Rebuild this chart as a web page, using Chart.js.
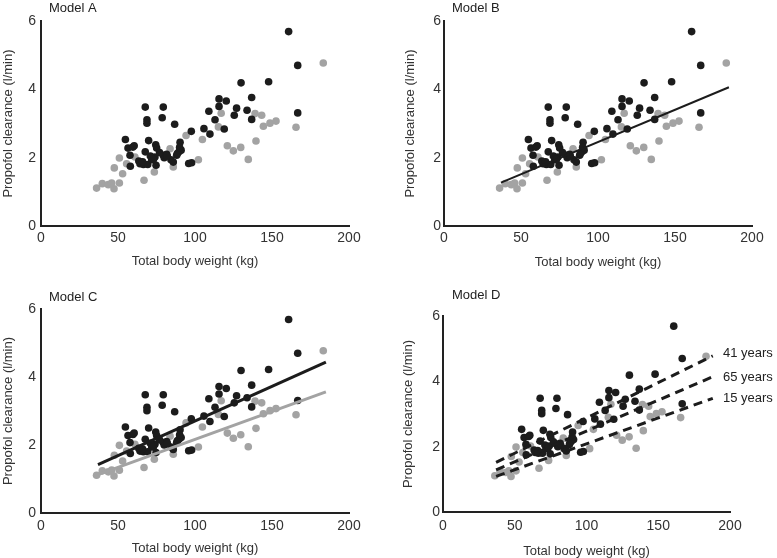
<!DOCTYPE html>
<html lang="en">
<head>
    <meta charset="UTF-8">
    <title>Propofol clearance vs total body weight</title>
    <script src="https://cdn.jsdelivr.net/npm/chart.js"></script>
    <style>
        body { margin: 0; background: #fff; }
        .panel { position: absolute; }
    </style>
</head>
<body>
    <div class="panel" id="pA" style="left:0;top:0;width:388px;height:279px"><canvas id="chartA"></canvas></div>
    <div class="panel" id="pB" style="left:390px;top:0;width:387px;height:279px"><canvas id="chartB"></canvas></div>
    <div class="panel" id="pC" style="left:0;top:280px;width:388px;height:278px"><canvas id="chartC"></canvas></div>
    <div class="panel" id="pD" style="left:390px;top:280px;width:387px;height:278px"><canvas id="chartD"></canvas></div>
<script>
// black points (weight kg, clearance l/min)
var blackWeight = [160.8, 166.7, 166.7, 129.9, 147.8, 136.8, 136.8, 133.8, 127, 125.5,
    115.6, 120.3, 115.6, 119, 113, 109, 105.8, 109.7, 97.6, 95.9,
    97.8, 90.3, 89.6, 88.1, 86.8, 79.4, 78.7, 67.7, 68.8, 68.8,
    69.9, 67.7, 74.5, 75.1, 54.8, 56.5, 59.7, 57.8, 58.0, 64.3,
    66.5, 69.3, 71.9, 74.0, 74.7, 79.4, 81.6, 84.4, 85.9, 91,
    71, 63.5, 60.5, 80, 88.5, 73, 82, 66, 90, 77];
var blackClearance = [5.69, 4.70, 3.31, 4.19, 4.22, 3.76, 3.12, 3.39, 3.45, 3.24,
    3.72, 3.66, 3.50, 2.84, 3.11, 3.36, 2.85, 2.69, 2.77, 1.83,
    1.85, 2.45, 2.17, 2.07, 2.98, 3.48, 3.17, 3.48, 3.11, 3.01,
    2.50, 2.17, 2.38, 2.28, 2.53, 2.28, 2.31, 2.07, 1.75, 1.82,
    1.80, 1.80, 1.94, 2.02, 1.78, 2.07, 2.10, 1.94, 1.87, 2.22,
    2.05, 1.90, 2.35, 2.00, 2.12, 1.95, 2.05, 1.88, 2.30, 2.15];

// grey points
var grayWeight = [36.1, 39.8, 43.7, 45.9, 47.4, 50.9, 53, 47.6, 50.9, 55.6,
    61, 66.9, 73.6, 83.8, 85.9, 94.2, 102.2, 104.8, 115.2, 121,
    124.9, 129.7, 134.6, 139.6, 139, 143.3, 144.4, 148.7, 152.6, 165.6,
    183.3, 117];
var grayClearance = [1.11, 1.24, 1.21, 1.26, 1.09, 1.26, 1.53, 1.70, 1.99, 1.82,
    2.02, 1.34, 1.58, 2.26, 1.73, 2.65, 1.94, 2.53, 2.90, 2.35,
    2.20, 2.30, 1.95, 2.49, 3.29, 3.24, 2.92, 3.01, 3.07, 2.89,
    4.77, 3.30];

// fitted lines: end points [start, end]
var fitWeight = [37, 185];
var fitB = [1.27, 4.06];
var fitCBlack = [1.42, 4.44];
var fitCGray = [1.13, 3.56];
var fitDWeight = [37, 188];
var fitD41 = [1.52, 4.78];
var fitD65 = [1.29, 4.14];
var fitD15 = [1.09, 3.48];
var ageLabels = ['41 years', '65 years', '15 years'];

var FONT = "'Liberation Sans', Arial, sans-serif";
var BLACK = '#1c1c1c';
var GREY = '#a3a3a3';

function pts(xs, ys) {
    return xs.map(function (x, i) { return { x: x, y: ys[i] }; });
}

function scatterSets() {
    return [
        { data: pts(blackWeight, blackClearance), backgroundColor: BLACK, borderWidth: 0, pointRadius: 3.8 },
        { data: pts(grayWeight, grayClearance), backgroundColor: GREY, borderWidth: 0, pointRadius: 3.8 }
    ];
}

function lineSet(xs, ys, color, width, dash) {
    return {
        data: pts(xs, ys), showLine: true, pointRadius: 0, borderColor: color,
        borderWidth: width, borderDash: dash || [], fill: false
    };
}

// draws panel title and optional side labels
var textPlugin = {
    id: 'panelText',
    afterDraw: function (chart) {
        var o = chart.options.plugins.panelText;
        var ctx = chart.ctx;
        ctx.save();
        ctx.fillStyle = '#222';
        ctx.font = '13px ' + FONT;
        ctx.textBaseline = 'middle';
        ctx.fillText(o.title, o.tx, o.ty);
        if (o.side) {
            o.side.forEach(function (s) { ctx.fillText(s.text, s.x, s.y); });
        }
        ctx.restore();
    }
};

function makeChart(id, p, datasets) {
    var ctx = document.getElementById(id).getContext('2d');
    return new Chart(ctx, {
        type: 'scatter',
        data: { datasets: datasets },
        plugins: [textPlugin],
        options: {
            responsive: true,
            maintainAspectRatio: false,
            animation: false,
            layout: { padding: { left: 0, top: p.t, right: p.w - p.r, bottom: 0 } },
            plugins: {
                legend: { display: false },
                tooltip: { enabled: false },
                panelText: { title: p.title, tx: p.tx, ty: p.ty, side: p.side }
            },
            scales: {
                x: {
                    type: 'linear', min: 0, max: 200,
                    afterFit: function (s) { s.height = p.h - p.b; },
                    grid: { display: false, drawTicks: false },
                    border: { display: true, color: '#222', width: 2 },
                    ticks: { stepSize: 50, padding: p.xpad, color: '#333', font: { family: FONT, size: 14 } },
                    title: { display: true, text: 'Total body weight (kg)', color: '#333',
                        font: { family: FONT, size: 13 }, padding: { top: 0, bottom: p.h - p.xtitle - 7.8 } }
                },
                y: {
                    type: 'linear', min: 0, max: 6,
                    afterFit: function (s) { s.width = p.l; },
                    grid: { display: false, drawTicks: false },
                    border: { display: true, color: '#222', width: 2 },
                    ticks: { stepSize: 2, padding: p.ypad, color: '#333', font: { family: FONT, size: 14 } },
                    title: { display: true, text: 'Propofol clearance (l/min)', color: '#333',
                        font: { family: FONT, size: 13 }, padding: { top: p.ytitle - 7.8, bottom: 0 } }
                }
            }
        }
    });
}

makeChart('chartA',
    { w: 388, h: 279, l: 41, r: 349, t: 21, b: 226, xpad: 4, ypad: 5, xtitle: 261, ytitle: 8,
      title: 'Model A', tx: 49, ty: 8 },
    scatterSets());

makeChart('chartB',
    { w: 387, h: 279, l: 54, r: 362, t: 21, b: 226, xpad: 4, ypad: 3, xtitle: 262, ytitle: 20,
      title: 'Model B', tx: 62, ty: 8 },
    [lineSet(fitWeight, fitB, BLACK, 2)].concat(scatterSets()));

makeChart('chartC',
    { w: 388, h: 278, l: 41, r: 349, t: 29, b: 233, xpad: 5, ypad: 5, xtitle: 268, ytitle: 8,
      title: 'Model C', tx: 49, ty: 17 },
    [lineSet(fitWeight, fitCBlack, BLACK, 3), lineSet(fitWeight, fitCGray, GREY, 3)].concat(scatterSets()));

makeChart('chartD',
    { w: 387, h: 278, l: 53, r: 340, t: 36, b: 232, xpad: 6, ypad: 3, xtitle: 271, ytitle: 18,
      title: 'Model D', tx: 62, ty: 15,
      side: [{ text: ageLabels[0], x: 333, y: 73 }, { text: ageLabels[1], x: 333, y: 97 }, { text: ageLabels[2], x: 333, y: 118 }] },
    [lineSet(fitDWeight, fitD41, BLACK, 3, [9, 6]), lineSet(fitDWeight, fitD65, BLACK, 3, [9, 6]),
     lineSet(fitDWeight, fitD15, BLACK, 3, [9, 6])].concat(scatterSets()));
</script>
</body>
</html>
